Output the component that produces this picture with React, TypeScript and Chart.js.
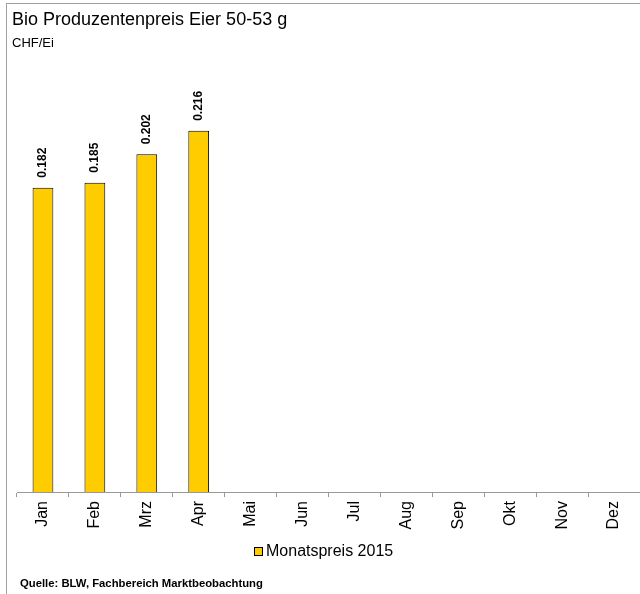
import React, { useEffect, useRef } from "react";
import { Chart, registerables } from "chart.js";

Chart.register(...registerables);

const months = ["Jan", "Feb", "Mrz", "Apr", "Mai", "Jun", "Jul", "Aug", "Sep", "Okt", "Nov", "Dez"];
const prices2015: (number | null)[] = [0.182, 0.185, 0.202, 0.216, null, null, null, null, null, null, null, null];
const seriesLabel = "Monatspreis 2015";
const titleText = "Bio Produzentenpreis Eier 50-53 g";
const unitText = "CHF/Ei";
const sourceText = "Quelle: BLW, Fachbereich Marktbeobachtung";

const FONT = "'Liberation Sans', Arial, Helvetica, sans-serif";

const valueLabelPlugin = {
  id: "valueLabels",
  afterDatasetsDraw(chart: any) {
    const ctx = chart.ctx;
    const meta = chart.getDatasetMeta(0);
    ctx.save();
    ctx.font = `bold 12px ${FONT}`;
    ctx.fillStyle = "#000";
    ctx.textAlign = "left";
    ctx.textBaseline = "middle";
    meta.data.forEach((bar: any, i: number) => {
      const v = prices2015[i];
      if (v === null || v === undefined) return;
      ctx.save();
      ctx.translate(bar.x, bar.y - 10);
      ctx.rotate(-Math.PI / 2);
      ctx.fillText(v.toFixed(3), 0, 0);
      ctx.restore();
    });
    ctx.restore();
  },
};

const monthLabelPlugin = {
  id: "monthLabels",
  afterDraw(chart: any) {
    const ctx = chart.ctx;
    const xs = chart.scales.x;
    const bottom = chart.chartArea.bottom;
    ctx.save();
    ctx.font = `16px ${FONT}`;
    ctx.fillStyle = "#000";
    ctx.textAlign = "right";
    ctx.textBaseline = "middle";
    months.forEach((m, i) => {
      const x = xs.getPixelForValue(i);
      ctx.save();
      ctx.translate(x, bottom + 9);
      ctx.rotate(-Math.PI / 2);
      ctx.fillText(m, 0, 0);
      ctx.restore();
    });
    ctx.restore();
  },
};

export default function App() {
  const canvasRef = useRef<HTMLCanvasElement | null>(null);

  useEffect(() => {
    document.body.style.margin = "0";
    const canvas = canvasRef.current;
    if (!canvas) return;
    const chart = new Chart(canvas, {
      type: "bar",
      data: {
        labels: months,
        datasets: [
          {
            label: seriesLabel,
            data: prices2015,
            backgroundColor: "#FFCC00",
            borderColor: "#000",
            borderWidth: 1,
            categoryPercentage: 1,
            barPercentage: 0.4,
          },
        ],
      },
      options: {
        animation: false,
        responsive: false,
        devicePixelRatio: 1,
        layout: { padding: { left: 17, right: 0, top: 74, bottom: 97 } },
        scales: {
          x: {
            offset: true,
            border: { display: true, color: "#999", width: 1 },
            grid: {
              display: true,
              drawOnChartArea: false,
              drawTicks: true,
              tickLength: 5,
              color: "#999",
              offset: true,
            },
            ticks: { display: false },
          },
          y: {
            display: false,
            min: 0,
            max: 0.25,
          },
        },
        plugins: {
          legend: { display: false },
          tooltip: { enabled: false },
        },
      },
      plugins: [valueLabelPlugin, monthLabelPlugin],
    });
    return () => chart.destroy();
  }, []);

  return (
    <div style={{ position: "relative", width: 640, height: 594, overflow: "hidden", background: "#fff", fontFamily: FONT }}>
      <canvas ref={canvasRef} width={640} height={594} style={{ position: "absolute", left: 0, top: 0 }} />
      <div style={{ position: "absolute", left: 6, top: 3, width: 634, height: 1, background: "#a0a0a0" }} />
      <div style={{ position: "absolute", left: 6, top: 3, width: 1, height: 591, background: "#a0a0a0" }} />
      <div style={{ position: "absolute", left: 12, top: 10, fontSize: "18px", lineHeight: "18px", color: "#000", whiteSpace: "nowrap" }}>
        {titleText}
      </div>
      <div style={{ position: "absolute", left: 12, top: 36, fontSize: "13px", lineHeight: "14px", color: "#000", whiteSpace: "nowrap" }}>
        {unitText}
      </div>
      <div style={{ position: "absolute", left: 254, top: 542, height: 18, display: "flex", alignItems: "center", whiteSpace: "nowrap" }}>
        <div style={{ width: 7, height: 7, background: "#FFCC00", border: "1px solid #000", marginRight: 3 }} />
        <span style={{ fontSize: "16px", lineHeight: "18px", color: "#000" }}>{seriesLabel}</span>
      </div>
      <div style={{ position: "absolute", left: 20, top: 577, fontSize: "11.3px", lineHeight: "12px", fontWeight: "bold", color: "#000", whiteSpace: "nowrap" }}>
        {sourceText}
      </div>
    </div>
  );
}
